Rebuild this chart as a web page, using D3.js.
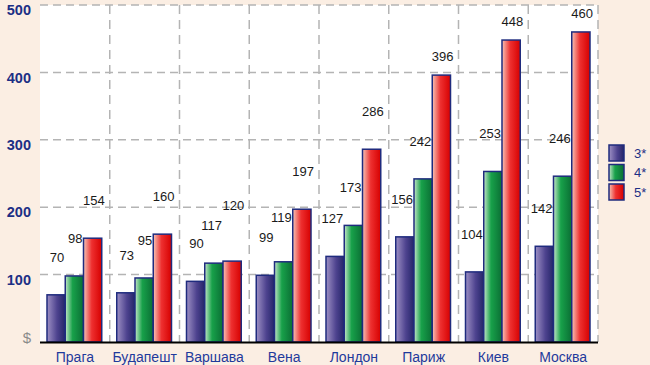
<!DOCTYPE html>
<html>
<head>
<meta charset="utf-8">
<script src="https://cdn.jsdelivr.net/npm/d3@7"></script>
<style>
  body { margin: 0; background: #fbeee3; }
</style>
</head>
<body>
<div id="chart"></div>
<script>
var cities = ["Прага", "Будапешт", "Варшава", "Вена", "Лондон", "Париж", "Киев", "Москва"];
var seriesNames = ["3*", "4*", "5*"];
var stars3 = [70, 73, 90, 99, 127, 156, 104, 142];
var stars4 = [98, 95, 117, 119, 173, 242, 253, 246];
var stars5 = [154, 160, 120, 197, 286, 396, 448, 460];
var yTicks = [100, 200, 300, 400, 500];

var width = 650, height = 365;
var margin = {top: 5, right: 52, bottom: 22, left: 40};

var rows = [];
cities.forEach(function(c, i) {
    rows.push({city: c, values: [stars3[i], stars4[i], stars5[i]]});
});

var svg = d3.select("#chart")
    .append("svg")
    .attr("width", width)
    .attr("height", height);

// gradients for bars
var gradients = [
    [["0%", "#9d90c4"], ["55%", "#4e438f"], ["100%", "#242568"]],
    [["0%", "#c4e6c8"], ["40%", "#18a14a"], ["100%", "#0a6e34"]],
    [["0%", "#f6c4b6"], ["45%", "#ee3030"], ["100%", "#d60000"]]
];
var defs = svg.append("defs");
gradients.forEach(function(stops, i) {
    var g = defs.append("linearGradient")
        .attr("id", "grad" + i)
        .attr("x1", "0%").attr("x2", "100%")
        .attr("y1", "0%").attr("y2", "0%");
    stops.forEach(function(s) {
        g.append("stop").attr("offset", s[0]).attr("stop-color", s[1]);
    });
});

var x0 = d3.scaleBand()
    .domain(cities)
    .range([margin.left, width - margin.right]);

var x1 = d3.scaleBand()
    .domain(d3.range(seriesNames.length))
    .range([7, x0.bandwidth() - 8]);

var y = d3.scaleLinear()
    .domain([0, 500])
    .range([height - margin.bottom - 1, margin.top]);

// plot background
svg.append("rect")
    .attr("x", margin.left)
    .attr("y", margin.top)
    .attr("width", width - margin.right - margin.left)
    .attr("height", y(0) - margin.top)
    .attr("fill", "#ffffff");

// horizontal grid
svg.append("g")
    .selectAll("line")
    .data(yTicks)
    .join("line")
    .attr("x1", margin.left)
    .attr("x2", width - margin.right)
    .attr("y1", function(d) { return y(d); })
    .attr("y2", function(d) { return y(d); })
    .attr("stroke", "#b4b4b4")
    .attr("stroke-width", 1.5)
    .attr("stroke-dasharray", "8,5");

// vertical grid at category edges
svg.append("g")
    .selectAll("line")
    .data(cities)
    .join("line")
    .attr("x1", function(d) { return x0(d) + x0.bandwidth(); })
    .attr("x2", function(d) { return x0(d) + x0.bandwidth(); })
    .attr("y1", margin.top)
    .attr("y2", y(0))
    .attr("stroke", "#b4b4b4")
    .attr("stroke-width", 1.5)
    .attr("stroke-dasharray", "9,6");

var groups = svg.append("g")
    .selectAll("g")
    .data(rows)
    .join("g")
    .attr("transform", function(d) { return "translate(" + x0(d.city) + ",0)"; });

groups.selectAll("rect")
    .data(function(d) { return d.values; })
    .join("rect")
    .attr("x", function(d, i) { return x1(i); })
    .attr("y", function(d) { return y(d); })
    .attr("width", x1.bandwidth())
    .attr("height", function(d) { return y(0) - y(d); })
    .attr("fill", function(d, i) { return "url(#grad" + i + ")"; })
    .attr("stroke", "#1f2b7e")
    .attr("stroke-width", 1.5);

// value labels above bars
groups.selectAll("text")
    .data(function(d) { return d.values; })
    .join("text")
    .attr("x", function(d, i) { return x1(i) + x1.bandwidth() + (i == 2 ? 3 : -1); })
    .attr("y", function(d) { return y(d) - (d > 380 ? 14 : 33); })
    .attr("text-anchor", "end")
    .attr("font-family", "Liberation Sans, Arial, sans-serif")
    .attr("font-size", 13)
    .attr("fill", "#1a1a1a")
    .text(function(d) { return d; });

// push labels up when they run into the previous one in the group
groups.each(function() {
    var prev = null;
    d3.select(this).selectAll("text").each(function() {
        var t = d3.select(this);
        var b = this.getBBox();
        if (prev && b.x < prev.x + prev.width + 3) {
            var yy = +t.attr("y");
            if (Math.abs(yy - prev.base) < 18) {
                t.attr("y", prev.base - 20);
                b = this.getBBox();
            }
        }
        prev = {x: b.x, width: b.width, base: +t.attr("y")};
    });
});

// baseline
svg.append("line")
    .attr("x1", margin.left)
    .attr("x2", width - margin.right)
    .attr("y1", y(0) + 0.5)
    .attr("y2", y(0) + 0.5)
    .attr("stroke", "#000")
    .attr("stroke-width", 2);

// y axis labels
svg.append("g")
    .selectAll("text")
    .data(yTicks)
    .join("text")
    .attr("x", 31)
    .attr("y", function(d) { return y(d) + 5; })
    .attr("dy", "0.36em")
    .attr("text-anchor", "end")
    .attr("font-family", "Liberation Sans, Arial, sans-serif")
    .attr("font-size", 14.5)
    .attr("font-weight", "bold")
    .attr("fill", "#1c2f85")
    .text(function(d) { return d; });

svg.append("text")
    .attr("x", 31)
    .attr("y", y(0) - 4)
    .attr("dy", "0.36em")
    .attr("text-anchor", "end")
    .attr("font-family", "Liberation Sans, Arial, sans-serif")
    .attr("font-size", 15)
    .attr("fill", "#8a8a8a")
    .text("$");

// x axis labels
svg.append("g")
    .selectAll("text")
    .data(cities)
    .join("text")
    .attr("x", function(d) { return x0(d) + x0.bandwidth() / 2; })
    .attr("y", 357)
    .attr("dy", "0.36em")
    .attr("text-anchor", "middle")
    .attr("font-family", "Liberation Sans, Arial, sans-serif")
    .attr("font-size", 14)
    .attr("fill", "#1f3a9c")
    .text(function(d) { return d; });

// legend
var legend = svg.append("g")
    .selectAll("g")
    .data(seriesNames)
    .join("g")
    .attr("transform", function(d, i) { return "translate(609," + (145 + i * 19.5) + ")"; });

legend.append("rect")
    .attr("width", 15)
    .attr("height", 16)
    .attr("fill", function(d, i) { return "url(#grad" + i + ")"; })
    .attr("stroke", "#1f2b7e")
    .attr("stroke-width", 1.5);

legend.append("text")
    .attr("x", 25)
    .attr("y", 8)
    .attr("dy", "0.36em")
    .attr("font-family", "Liberation Sans, Arial, sans-serif")
    .attr("font-size", 13)
    .attr("fill", "#1c2f85")
    .text(function(d) { return d; });
</script>
</body>
</html>
